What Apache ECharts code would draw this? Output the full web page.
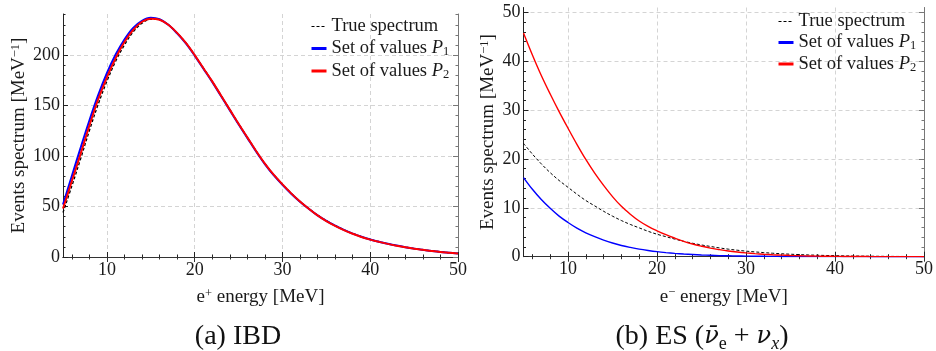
<!DOCTYPE html>
<html><head><meta charset="utf-8">
<script src="https://cdn.jsdelivr.net/npm/echarts@6/dist/echarts.min.js"></script>
<style>html,body{margin:0;padding:0;background:#fff}#c{width:936px;height:351px}</style>
</head><body><div id="c"></div><script>
// ---- data ----
const energy = [5,6,7,8,9,10,11,12,13,14,15,16,17,18,19,20,21,22,23,24,25,26,27,28,29,30,31,32,33,34,35,36,37,38,39,40,41,42,43,44,45,46,47,48,49,50];
// (a) IBD
const ibdTrue = [44,70,97,125,151,174,194,210,223,231.5,235.5,235,230,222,212,200,187,174,160,146,132,118.5,105,92.5,81.5,72,63,55,48,41.5,36,31.2,27,23.3,20.1,17.5,15.2,13.2,11.4,9.8,8.4,7.2,6.1,5.1,4.3,3.5];
const ibdP1 = [52,80,108,135,160,182,200.5,215.5,227,234,237,235.5,230,221.5,211.5,199.5,186.5,173.5,159.5,145.5,131.5,118,104.5,92,81,71.5,62.7,54.8,47.8,41.3,35.8,31,26.8,23.1,20,17.4,15.1,13.1,11.3,9.7,8.3,7.1,6,5,4.2,3.4];
const ibdP2 = [48,75,102,130,156,178,197,213,225,233,236,235,230,222,212,200,187,174,160,146,132,118.5,105,92.5,81.5,72,63,55,47.8,41.2,35.6,30.8,26.6,23,19.8,17.2,15,13,11.2,9.6,8.2,7.1,6,5,4.2,3.4];
// (b) ES
const esTrue = [23.2,21.0,19.0,17.2,15.6,14.2,12.8,11.5,10.4,9.3,8.3,7.4,6.6,5.9,5.2,4.6,4.1,3.6,3.15,2.75,2.4,2.1,1.8,1.55,1.33,1.14,0.98,0.84,0.71,0.6,0.51,0.43,0.36,0.3,0.25,0.21,0.17,0.14,0.12,0.1,0.08,0.065,0.053,0.043,0.035,0.03];
const esP1 = [16.2,13.8,11.7,9.9,8.3,7.0,5.85,4.9,4.1,3.4,2.8,2.3,1.9,1.55,1.27,1.03,0.84,0.68,0.55,0.45,0.36,0.29,0.23,0.19,0.15,0.12,0.1,0.08,0.065,0.05,0.04,0.032,0.025,0.02,0.015,0.012,0.01,0.008,0.006,0.005,0.004,0.003,0.0025,0.002,0.0015,0.001];
const esP2 = [45.8,41.3,37.1,33.3,29.7,26.3,23.0,19.9,17.1,14.6,12.3,10.3,8.7,7.3,6.2,5.3,4.5,3.8,3.15,2.6,2.15,1.75,1.45,1.18,0.96,0.78,0.63,0.5,0.4,0.32,0.25,0.2,0.155,0.12,0.09,0.07,0.055,0.042,0.033,0.025,0.02,0.015,0.011,0.009,0.007,0.005];
// ticks
const xMajor = [10,20,30,40,50];
const xMinor = [6,8,12,14,16,18,22,24,26,28,32,34,36,38,42,44,46,48];
const yMajorIBD = [0,50,100,150,200];
const yMinorIBD = [10,20,30,40,60,70,80,90,110,120,130,140,160,170,180,190,210,220,230,240];
const yMajorES = [0,10,20,30,40,50];
const yMinorES = [2,4,6,8,12,14,16,18,22,24,26,28,32,34,36,38,42,44,46,48,50];
const seriesNames = ['True spectrum','Set of values P1','Set of values P2'];

// ---- styling ----
const FONT = 'Liberation Serif';
const FS = 18;
const TXT = '#1a1a1a';
function rich(fs) {
  return {
    n: {fontFamily: FONT, fontSize: fs, color: TXT, lineHeight: 20},
    i: {fontFamily: FONT, fontSize: fs, color: TXT, fontStyle: 'italic', lineHeight: 20},
    sub: {fontFamily: FONT, fontSize: 12.5, color: TXT, lineHeight: 12, verticalAlign: 'bottom'},
    sup: {fontFamily: FONT, fontSize: 12.5, color: TXT, lineHeight: 12, verticalAlign: 'top'}
  };
}
const gridLine = {show: true, lineStyle: {color: '#d4d4d4', width: 1, type: [4, 3]}};

function xAxes(g, min, max, name, nameGap) {
  const common = {type: 'value', gridIndex: g, min: min, max: max};
  return [
    Object.assign({}, common, {position: 'bottom',
      axisLine: {show: true, lineStyle: {color: '#222', width: 1}},
      axisTick: {show: true, inside: true, length: 5, customValues: xMajor, lineStyle: {color: '#222', width: 1}},
      axisLabel: {show: true, customValues: xMajor, margin: 4, fontFamily: FONT, fontSize: FS, color: TXT},
      splitLine: gridLine,
      name: name, nameLocation: 'middle', nameGap: nameGap,
      nameTextStyle: {fontFamily: FONT, fontSize: 19, color: TXT, rich: rich(19)}}),
    Object.assign({}, common, {position: 'top',
      axisLine: {show: true, lineStyle: {color: '#333', width: 1}},
      axisTick: {show: true, inside: true, length: 5, customValues: xMajor, lineStyle: {color: '#333', width: 1}},
      axisLabel: {show: false}, splitLine: {show: false}}),
    Object.assign({}, common, {position: 'bottom',
      axisLine: {show: false},
      axisTick: {show: true, inside: true, length: 2.5, customValues: xMinor, lineStyle: {color: '#222', width: 1}},
      axisLabel: {show: false}, splitLine: {show: false}}),
    Object.assign({}, common, {position: 'top',
      axisLine: {show: false},
      axisTick: {show: true, inside: true, length: 2.5, customValues: xMinor, lineStyle: {color: '#333', width: 1}},
      axisLabel: {show: false}, splitLine: {show: false}})
  ];
}
function yAxes(g, min, max, major, minor, nameGap) {
  const common = {type: 'value', gridIndex: g, min: min, max: max};
  return [
    Object.assign({}, common, {position: 'left',
      axisLine: {show: true, lineStyle: {color: '#222', width: 1}},
      axisTick: {show: true, inside: true, length: 5, customValues: major, lineStyle: {color: '#222', width: 1}},
      axisLabel: {show: true, customValues: major, margin: 3, fontFamily: FONT, fontSize: FS, color: TXT},
      splitLine: gridLine,
      name: '{n|Events spectrum [MeV}{sup|\u22121}{n|]}', nameLocation: 'middle', nameGap: nameGap, nameRotate: 90,
      nameTextStyle: {fontFamily: FONT, fontSize: 19, color: TXT, rich: rich(19)}}),
    Object.assign({}, common, {position: 'right',
      axisLine: {show: true, lineStyle: {color: '#777', width: 1}},
      axisTick: {show: true, inside: true, length: 5, customValues: major, lineStyle: {color: '#777', width: 1}},
      axisLabel: {show: false}, splitLine: {show: false}}),
    Object.assign({}, common, {position: 'left',
      axisLine: {show: false},
      axisTick: {show: true, inside: true, length: 2.5, customValues: minor, lineStyle: {color: '#222', width: 1}},
      axisLabel: {show: false}, splitLine: {show: false}}),
    Object.assign({}, common, {position: 'right',
      axisLine: {show: false},
      axisTick: {show: true, inside: true, length: 2.5, customValues: minor, lineStyle: {color: '#777', width: 1}},
      axisLabel: {show: false}, splitLine: {show: false}})
  ];
}
function pairs(arr) { return energy.map((x, i) => [x, arr[i]]); }
function mkSeries(g, vals, widths) {
  const colors = ['#000000', '#0000ff', '#ff0000'];
  const types = [[3, 2], 'solid', 'solid'];
  return vals.map((v, k) => ({
    type: 'line', name: seriesNames[k], xAxisIndex: g * 4, yAxisIndex: g * 4,
    data: pairs(v), showSymbol: false, symbol: 'none', smooth: 0.35,
    lineStyle: {color: colors[k], width: widths[k], type: types[k]},
    itemStyle: {color: colors[k]}, z: 3 + k
  }));
}
function legendFmt(name) {
  if (name === 'True spectrum') return '{n|True spectrum}';
  if (name === 'Set of values P1') return '{n|Set of values }{i|P}{sub|1}';
  return '{n|Set of values }{i|P}{sub|2}';
}
function mkLegend(left, top, gap) {
  const hide = {opacity: 0, borderWidth: 0};
  return {
    left: left, top: top, orient: 'vertical', padding: 0, itemGap: gap,
    itemWidth: 15, itemHeight: 14, selectedMode: false,
    itemStyle: hide,
    data: [
      {name: 'True spectrum', lineStyle: {width: 1.2, color: '#000', type: [3, 2]}, itemStyle: hide},
      {name: 'Set of values P1', lineStyle: {width: 3, color: '#0000ff'}, itemStyle: hide},
      {name: 'Set of values P2', lineStyle: {width: 3, color: '#ff0000'}, itemStyle: hide}
    ],
    formatter: legendFmt,
    textStyle: {fontFamily: FONT, fontSize: 18.5, color: TXT, rich: rich(18.5)}
  };
}

const chart = echarts.init(document.getElementById('c'), null, {renderer: 'canvas'});
chart.setOption({
  animation: false,
  backgroundColor: '#ffffff',
  grid: [
    {left: 63, top: 14, width: 395, height: 243, containLabel: false},
    {left: 523.5, top: 7.5, width: 403, height: 249.2, containLabel: false}
  ],
  xAxis: [].concat(
    xAxes(0, 5, 50, '{n|e}{sup|+}{n| energy [MeV]}', 30),
    xAxes(1, 5, 50, '{n|e}{sup|\u2212}{n| energy [MeV]}', 30)
  ),
  yAxis: [].concat(
    yAxes(0, 0, 240.7, yMajorIBD, yMinorIBD, 34),
    yAxes(1, 0, 51, yMajorES, yMinorES, 25)
  ),
  legend: [mkLegend(310, 17, 3), mkLegend(777, 12, 2)],
  series: [].concat(
    mkSeries(0, [ibdTrue, ibdP1, ibdP2], [1.3, 2, 2]),
    mkSeries(1, [esTrue, esP1, esP2], [1, 1.4, 1.4])
  ),
  graphic: [
    {type: 'text', x: 238, y: 337, style: {
      text: '(a) IBD', fontFamily: FONT, fontSize: 28, fill: '#111', align: 'center', verticalAlign: 'middle'}},
    {type: 'text', x: 702, y: 337, style: {
      text: '{a|(b) ES (}{g|\u03BD\u0304}{e|e}{a| + }{g|\u03BD}{x|x}{a|)}',
      fontFamily: FONT, fontSize: 28, fill: '#111', align: 'center', verticalAlign: 'middle',
      rich: {
        a: {fontFamily: FONT, fontSize: 28, fill: '#111', lineHeight: 32},
        g: {fontFamily: 'DejaVu Serif', fontSize: 24, fill: '#111', fontStyle: 'italic', lineHeight: 32},
        e: {fontFamily: FONT, fontSize: 18, fill: '#111', lineHeight: 18, verticalAlign: 'bottom'},
        x: {fontFamily: FONT, fontSize: 18, fill: '#111', fontStyle: 'italic', lineHeight: 18, verticalAlign: 'bottom'}
      }}}
  ]
});
</script></body></html>
